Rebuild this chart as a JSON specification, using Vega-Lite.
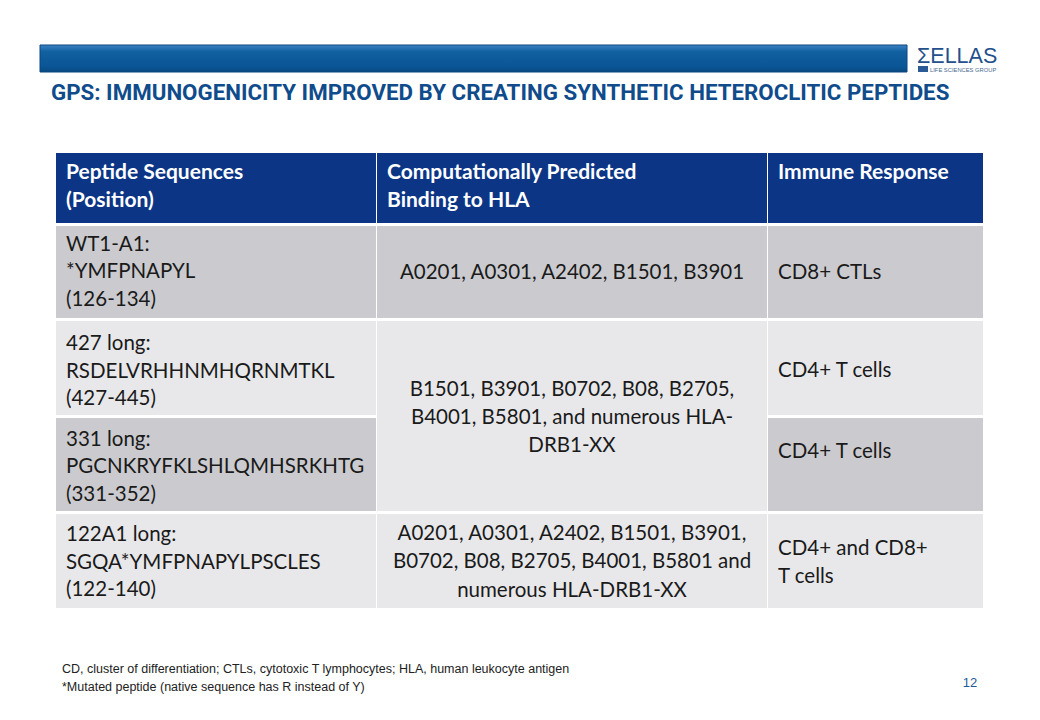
{
  "$schema": "https://vega.github.io/schema/vega-lite/v6.json",
  "width": 1040,
  "height": 720,
  "autosize": "none",
  "padding": 0,
  "background": "white",
  "config": {"view": {"stroke": null}},
  "datasets": {
    "bar": [{"x": 40, "x2": 907, "y": 45, "y2": 72}],
    "logoBox": [{"x": 918, "x2": 928, "y": 66, "y2": 72}],
    "cells": [
      {"x": 56, "x2": 376, "y": 153, "y2": 223, "kind": "header"},
      {"x": 377, "x2": 767, "y": 153, "y2": 223, "kind": "header"},
      {"x": 768, "x2": 983, "y": 153, "y2": 223, "kind": "header"},
      {"x": 56, "x2": 376, "y": 226, "y2": 318, "kind": "dark"},
      {"x": 377, "x2": 767, "y": 226, "y2": 318, "kind": "dark"},
      {"x": 768, "x2": 983, "y": 226, "y2": 318, "kind": "dark"},
      {"x": 56, "x2": 376, "y": 321, "y2": 415, "kind": "light"},
      {"x": 377, "x2": 767, "y": 321, "y2": 511, "kind": "light"},
      {"x": 768, "x2": 983, "y": 321, "y2": 415, "kind": "light"},
      {"x": 56, "x2": 376, "y": 418, "y2": 511, "kind": "dark"},
      {"x": 768, "x2": 983, "y": 418, "y2": 511, "kind": "dark"},
      {"x": 56, "x2": 376, "y": 514, "y2": 608, "kind": "light"},
      {"x": 377, "x2": 767, "y": 514, "y2": 608, "kind": "light"},
      {"x": 768, "x2": 983, "y": 514, "y2": 608, "kind": "light"}
    ],
    "texts": [
      {"role": "title", "x": 51, "y": 100, "text": "GPS: IMMUNOGENICITY IMPROVED BY CREATING SYNTHETIC HETEROCLITIC PEPTIDES"},
      {"role": "logo", "x": 917, "y": 63, "text": "ΣELLAS"},
      {"role": "logosub", "x": 930, "y": 71.5, "text": "LIFE SCIENCES GROUP"},
      {"role": "header", "x": 66, "y": 179, "text": "Peptide Sequences"},
      {"role": "header", "x": 66, "y": 207, "text": "(Position)"},
      {"role": "header", "x": 387, "y": 179, "text": "Computationally Predicted"},
      {"role": "header", "x": 387, "y": 207, "text": "Binding to HLA"},
      {"role": "header", "x": 778, "y": 179, "text": "Immune Response"},
      {"role": "left", "x": 66, "y": 251, "text": "WT1-A1:"},
      {"role": "left", "x": 66, "y": 278, "text": "*YMFPNAPYL"},
      {"role": "left", "x": 66, "y": 306, "text": "(126-134)"},
      {"role": "center", "x": 572, "y": 279, "text": "A0201, A0301, A2402, B1501, B3901"},
      {"role": "left", "x": 778, "y": 279, "text": "CD8+ CTLs"},
      {"role": "left", "x": 66, "y": 350, "text": "427 long:"},
      {"role": "left", "x": 66, "y": 378, "text": "RSDELVRHHNMHQRNMTKL"},
      {"role": "left", "x": 66, "y": 405, "text": "(427-445)"},
      {"role": "center", "x": 572, "y": 396, "text": "B1501, B3901, B0702, B08, B2705,"},
      {"role": "center", "x": 572, "y": 424, "text": "B4001, B5801, and numerous HLA-"},
      {"role": "center", "x": 572, "y": 452, "text": "DRB1-XX"},
      {"role": "left", "x": 778, "y": 377, "text": "CD4+ T cells"},
      {"role": "left", "x": 66, "y": 446, "text": "331 long:"},
      {"role": "left", "x": 66, "y": 473, "text": "PGCNKRYFKLSHLQMHSRKHTG"},
      {"role": "left", "x": 66, "y": 501, "text": "(331-352)"},
      {"role": "left", "x": 778, "y": 458, "text": "CD4+ T cells"},
      {"role": "left", "x": 66, "y": 541, "text": "122A1 long:"},
      {"role": "left", "x": 66, "y": 569, "text": "SGQA*YMFPNAPYLPSCLES"},
      {"role": "left", "x": 66, "y": 596, "text": "(122-140)"},
      {"role": "center", "x": 572, "y": 540, "text": "A0201, A0301, A2402, B1501, B3901,"},
      {"role": "center", "x": 572, "y": 568, "text": "B0702, B08, B2705, B4001, B5801 and"},
      {"role": "center", "x": 572, "y": 597, "text": "numerous HLA-DRB1-XX"},
      {"role": "left", "x": 778, "y": 555, "text": "CD4+ and CD8+"},
      {"role": "left", "x": 778, "y": 583, "text": "T cells"},
      {"role": "foot", "x": 62, "y": 673, "text": "CD, cluster of differentiation; CTLs, cytotoxic T lymphocytes; HLA, human leukocyte antigen"},
      {"role": "foot", "x": 62, "y": 691, "text": "*Mutated peptide (native sequence has R instead of Y)"},
      {"role": "page", "x": 970, "y": 687, "text": "12"}
    ]
  },
  "encoding": {
    "x": {"field": "x", "type": "quantitative", "scale": {"domain": [0, 1040], "nice": false, "zero": false}, "axis": null},
    "y": {"field": "y", "type": "quantitative", "scale": {"domain": [0, 720], "nice": false, "zero": false, "reverse": true}, "axis": null}
  },
  "layer": [
    {
      "data": {"name": "bar"},
      "mark": {"type": "rect", "stroke": "#0a4782", "strokeWidth": 1,
        "fill": {"gradient": "linear", "x1": 0, "y1": 0, "x2": 0, "y2": 1,
          "stops": [{"offset": 0, "color": "#3b82c4"}, {"offset": 0.25, "color": "#11609f"}, {"offset": 0.8, "color": "#0a5596"}, {"offset": 1, "color": "#08497f"}]}},
      "encoding": {"x2": {"field": "x2"}, "y2": {"field": "y2"}}
    },
    {
      "data": {"name": "logoBox"},
      "mark": {"type": "rect", "fill": "#2a5b97"},
      "encoding": {"x2": {"field": "x2"}, "y2": {"field": "y2"}}
    },
    {
      "data": {"name": "cells"},
      "mark": {"type": "rect"},
      "encoding": {
        "x2": {"field": "x2"},
        "y2": {"field": "y2"},
        "color": {"field": "kind", "type": "nominal", "legend": null,
          "scale": {"domain": ["header", "dark", "light"], "range": ["#0c3586", "#cbcbcf", "#e8e8ea"]}}
      }
    },
    {
      "data": {"name": "texts"},
      "transform": [{"filter": "datum.role === 'title'"}],
      "mark": {"type": "text", "align": "left", "baseline": "alphabetic", "font": "Roboto", "fontWeight": "bold", "fontSize": 22.3, "fill": "#104c8c"},
      "encoding": {"text": {"field": "text"}}
    },
    {
      "data": {"name": "texts"},
      "transform": [{"filter": "datum.role === 'logo'"}],
      "mark": {"type": "text", "align": "left", "baseline": "alphabetic", "font": "Liberation Sans", "fontSize": 21.5, "fill": "#23508c"},
      "encoding": {"text": {"field": "text"}}
    },
    {
      "data": {"name": "texts"},
      "transform": [{"filter": "datum.role === 'logosub'"}],
      "mark": {"type": "text", "align": "left", "baseline": "alphabetic", "font": "Liberation Sans", "fontSize": 5.8, "fill": "#4a6a90"},
      "encoding": {"text": {"field": "text"}}
    },
    {
      "data": {"name": "texts"},
      "transform": [{"filter": "datum.role === 'header'"}],
      "mark": {"type": "text", "align": "left", "baseline": "alphabetic", "font": "Lato", "fontWeight": "bold", "fontSize": 21, "fill": "#ffffff"},
      "encoding": {"text": {"field": "text"}}
    },
    {
      "data": {"name": "texts"},
      "transform": [{"filter": "datum.role === 'left'"}],
      "mark": {"type": "text", "align": "left", "baseline": "alphabetic", "font": "Lato", "fontSize": 20.5, "fill": "#1a1a1a"},
      "encoding": {"text": {"field": "text"}}
    },
    {
      "data": {"name": "texts"},
      "transform": [{"filter": "datum.role === 'center'"}],
      "mark": {"type": "text", "align": "center", "baseline": "alphabetic", "font": "Lato", "fontSize": 20.5, "fill": "#1a1a1a"},
      "encoding": {"text": {"field": "text"}}
    },
    {
      "data": {"name": "texts"},
      "transform": [{"filter": "datum.role === 'foot'"}],
      "mark": {"type": "text", "align": "left", "baseline": "alphabetic", "font": "Liberation Sans", "fontSize": 12.5, "fill": "#222222"},
      "encoding": {"text": {"field": "text"}}
    },
    {
      "data": {"name": "texts"},
      "transform": [{"filter": "datum.role === 'page'"}],
      "mark": {"type": "text", "align": "center", "baseline": "alphabetic", "font": "Liberation Sans", "fontSize": 13, "fill": "#1f5a96"},
      "encoding": {"text": {"field": "text"}}
    }
  ]
}
